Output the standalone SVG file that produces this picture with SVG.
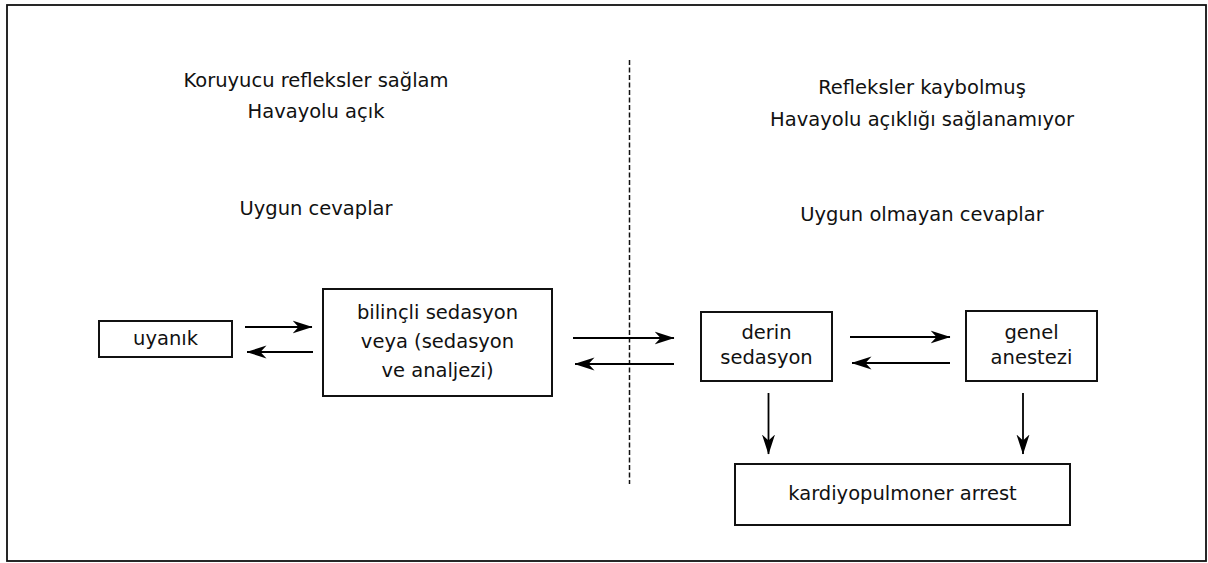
<svg xmlns="http://www.w3.org/2000/svg" width="1208" height="563" viewBox="0 0 1208 563">
<defs>
<marker id="ah" viewBox="0 0 20 14" refX="19.5" refY="7" markerWidth="20" markerHeight="14" markerUnits="userSpaceOnUse" orient="auto">
<path d="M0,0.5 L20,7 L0,13.5 L6,7 Z" fill="#000"/>
</marker>
<style>
text{font-family:"DejaVu Sans","Liberation Sans",sans-serif;font-size:19.5px;fill:#111;text-anchor:middle}
.box{fill:#fff;stroke:#111;stroke-width:2}
.arr{stroke:#000;stroke-width:1.8;fill:none;marker-end:url(#ah)}
</style>
</defs>
<rect x="0" y="0" width="1208" height="563" fill="#fff"/>
<rect x="7" y="5" width="1199" height="556" fill="none" stroke="#111" stroke-width="1.8"/>
<line x1="629.5" y1="60" x2="629.5" y2="484" stroke="#111" stroke-width="1.5" stroke-dasharray="5,2.5"/>
<g id="labels">
<text x="316" y="87">Koruyucu refleksler sağlam</text>
<text x="316" y="118">Havayolu açık</text>
<text x="316" y="215">Uygun cevaplar</text>
<text x="922" y="94">Refleksler kaybolmuş</text>
<text x="922" y="126">Havayolu açıklığı sağlanamıyor</text>
<text x="922" y="221">Uygun olmayan cevaplar</text>
</g>
<g id="uyanik"><rect class="box" x="99" y="321" width="133" height="36"/><text x="165.5" y="345">uyanık</text></g>
<g id="bilincli"><rect class="box" x="323" y="289" width="229" height="107"/>
<text x="437.5" y="319">bilinçli sedasyon</text><text x="437.5" y="348">veya (sedasyon</text><text x="437.5" y="377">ve analjezi)</text></g>
<g id="derin"><rect class="box" x="701" y="312" width="131" height="69"/><text x="766.5" y="339">derin</text><text x="766.5" y="364">sedasyon</text></g>
<g id="genel"><rect class="box" x="966" y="311" width="131" height="70"/><text x="1031.5" y="339">genel</text><text x="1031.5" y="364">anestezi</text></g>
<g id="arrest"><rect class="box" x="735" y="464" width="335" height="61"/><text x="902.5" y="500">kardiyopulmoner arrest</text></g>
<g id="connectors">
<line class="arr" x1="245" y1="327" x2="312" y2="327"/>
<line class="arr" x1="313" y1="352" x2="247" y2="352"/>
<line class="arr" x1="573" y1="338" x2="674" y2="338"/>
<line class="arr" x1="674" y1="364" x2="575" y2="364"/>
<line class="arr" x1="850" y1="337" x2="950" y2="337"/>
<line class="arr" x1="950" y1="363" x2="852" y2="363"/>
<line class="arr" x1="768.5" y1="393" x2="768.5" y2="454"/>
<line class="arr" x1="1023" y1="393" x2="1023" y2="454"/>
</g>
</svg>
